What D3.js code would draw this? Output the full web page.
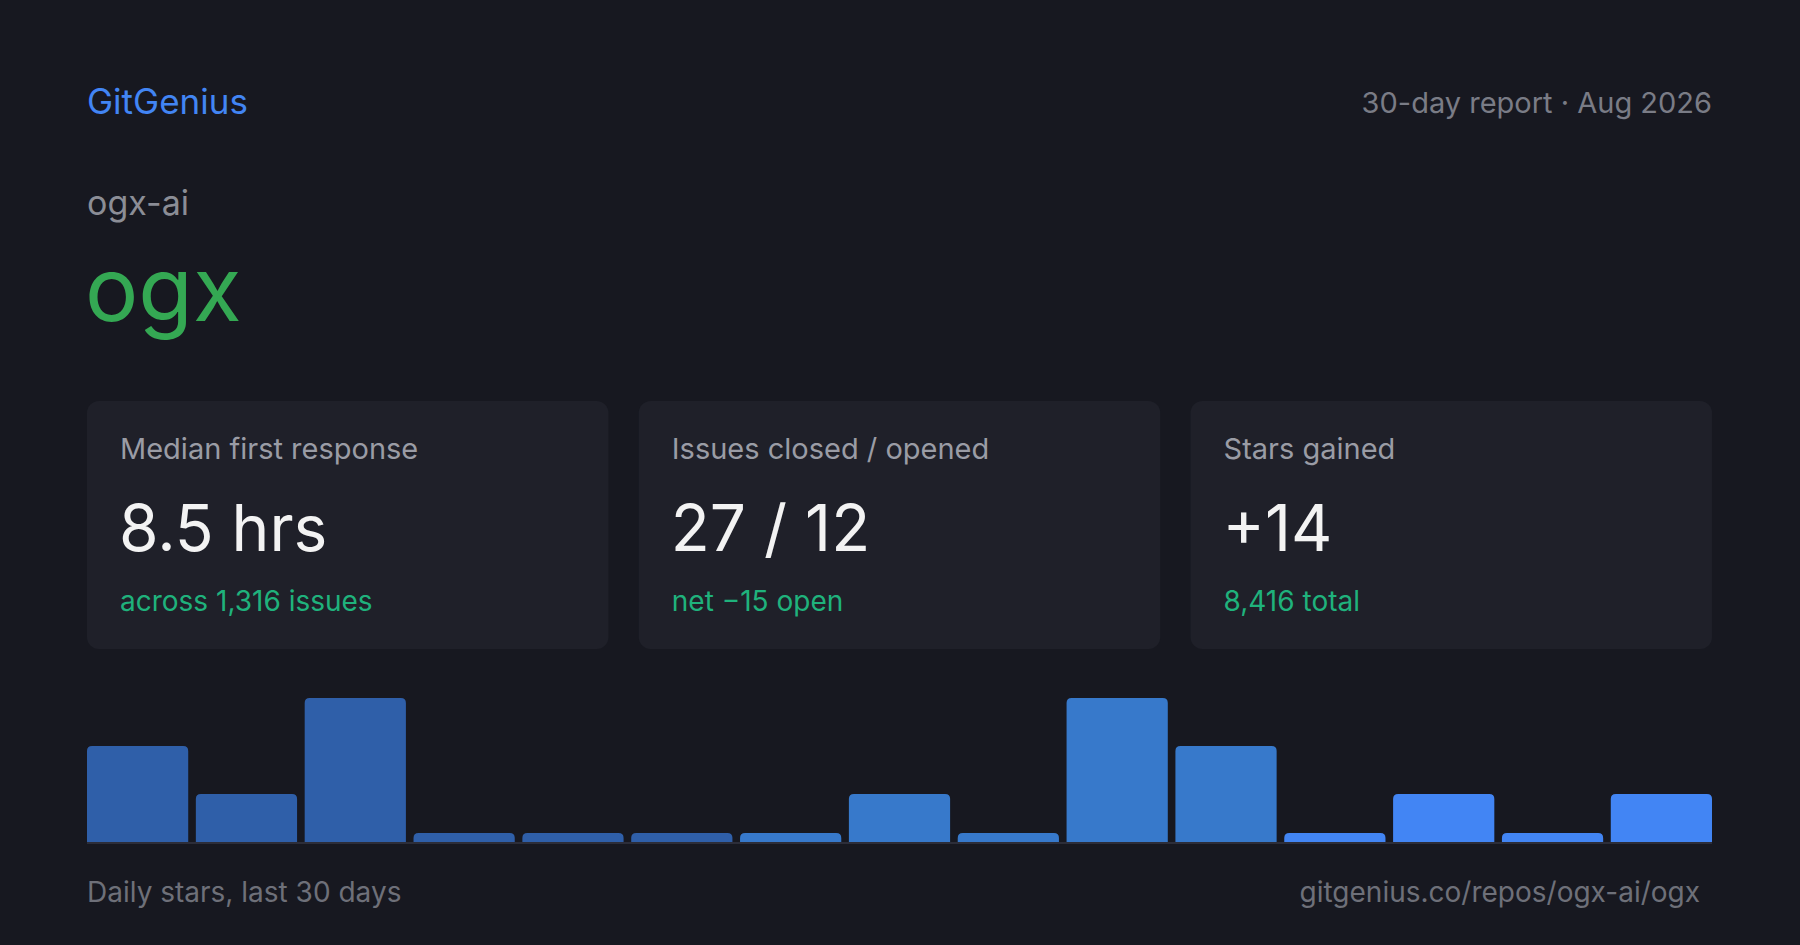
<!DOCTYPE html>
<html>
<head>
<meta charset="utf-8">
<script src="https://cdn.jsdelivr.net/npm/d3@7"></script>
<style>
  body { margin: 0; background: #171820; }
  svg { display: block; font-family: Inter, "Noto Sans", sans-serif; }
</style>
</head>
<body>
<div id="card"></div>
<script>
const svgWidth = 1800;
const svgHeight = 945;

// header texts
const brand = "GitGenius";
const reportLabel = "30-day report · Aug 2026";
const owner = "ogx-ai";
const repo = "ogx";

// stat cards
const cardLabels = ["Median first response", "Issues closed / opened", "Stars gained"];
const cardValues = ["8.5 hrs", "27 / 12", "+14"];
const cardNotes = ["across 1,316 issues", "net \u221215 open", "8,416 total"];

// daily stars
const days = [1, 2, 3, 4, 5, 6, 7, 8, 9, 10, 11, 12, 13, 14, 15];
const stars = [2, 1, 3, 0, 0, 0, 0, 1, 0, 3, 2, 0, 1, 0, 1];

const footerLeft = "Daily stars, last 30 days";
const footerRight = "gitgenius.co/repos/ogx-ai/ogx";

const margin = { left: 87, right: 88 };
const innerRight = svgWidth - margin.right;

const svg = d3.select("#card")
  .append("svg")
  .attr("width", svgWidth)
  .attr("height", svgHeight);

svg.append("rect")
  .attr("width", svgWidth)
  .attr("height", svgHeight)
  .attr("fill", "#171820");

// header
svg.append("text")
  .attr("x", margin.left)
  .attr("y", 114)
  .attr("font-size", 35)
  .attr("fill", "#4285f4")
  .text(brand);

svg.append("text")
  .attr("x", innerRight)
  .attr("y", 113)
  .attr("text-anchor", "end")
  .attr("font-size", 29)
  .attr("fill", "#7a7c86")
  .text(reportLabel);

svg.append("text")
  .attr("x", margin.left)
  .attr("y", 215)
  .attr("font-size", 34)
  .attr("fill", "#8b8d96")
  .text(owner);

svg.append("text")
  .attr("x", margin.left - 2)
  .attr("y", 321)
  .attr("font-size", 89)
  .attr("fill", "#34a853")
  .text(repo);

// cards
const cardX = d3.scaleBand()
  .domain(cardLabels)
  .range([margin.left, innerRight])
  .paddingInner(0.055);

const cards = svg.selectAll("g.stat")
  .data(cardLabels)
  .enter()
  .append("g")
  .attr("class", "stat")
  .attr("transform", d => `translate(${cardX(d)}, 401)`);

cards.append("rect")
  .attr("width", cardX.bandwidth())
  .attr("height", 248)
  .attr("rx", 12)
  .attr("fill", "#1f2029");

cards.append("text")
  .attr("x", 33)
  .attr("y", 58)
  .attr("font-size", 29)
  .attr("fill", "#9a9ca5")
  .text(d => d);

cards.append("text")
  .attr("x", 32)
  .attr("y", 150)
  .attr("font-size", 64)
  .attr("fill", "#f3f3f3")
  .text((d, i) => cardValues[i]);

cards.append("text")
  .attr("x", 33)
  .attr("y", 210)
  .attr("font-size", 28)
  .attr("fill", "#1fb27c")
  .text((d, i) => cardNotes[i]);

// bars
const baseY = 842;
const x = d3.scaleBand()
  .domain(days)
  .range([margin.left, innerRight])
  .paddingInner(0.07);

const y = d3.scaleLinear()
  .domain([0, d3.max(stars)])
  .range([baseY, baseY - 144]);

const color = d3.scaleThreshold()
  .domain([7, 12])
  .range(["#2f5fa9", "#3779cb", "#4285f4"]);

function topRounded(x0, y0, w, h, r) {
  r = Math.min(r, h, w / 2);
  return `M${x0},${y0 + h}V${y0 + r}Q${x0},${y0} ${x0 + r},${y0}` +
    `H${x0 + w - r}Q${x0 + w},${y0} ${x0 + w},${y0 + r}V${y0 + h}Z`;
}

svg.selectAll("path.bar")
  .data(days)
  .enter()
  .append("path")
  .attr("class", "bar")
  .attr("fill", d => color(d))
  .attr("d", (d, i) => {
    const h = Math.max(baseY - y(stars[i]), 9);
    return topRounded(x(d), baseY - h, x.bandwidth(), h, 5);
  });

svg.append("line")
  .attr("x1", margin.left)
  .attr("x2", innerRight)
  .attr("y1", baseY + 1)
  .attr("y2", baseY + 1)
  .attr("stroke", "#2c2d39")
  .attr("stroke-width", 2);

// footer
svg.append("text")
  .attr("x", margin.left)
  .attr("y", 902)
  .attr("font-size", 28)
  .attr("fill", "#6e7079")
  .text(footerLeft);

svg.append("text")
  .attr("x", innerRight - 12)
  .attr("y", 902)
  .attr("text-anchor", "end")
  .attr("font-size", 28)
  .attr("fill", "#6e7079")
  .text(footerRight);
</script>
</body>
</html>
